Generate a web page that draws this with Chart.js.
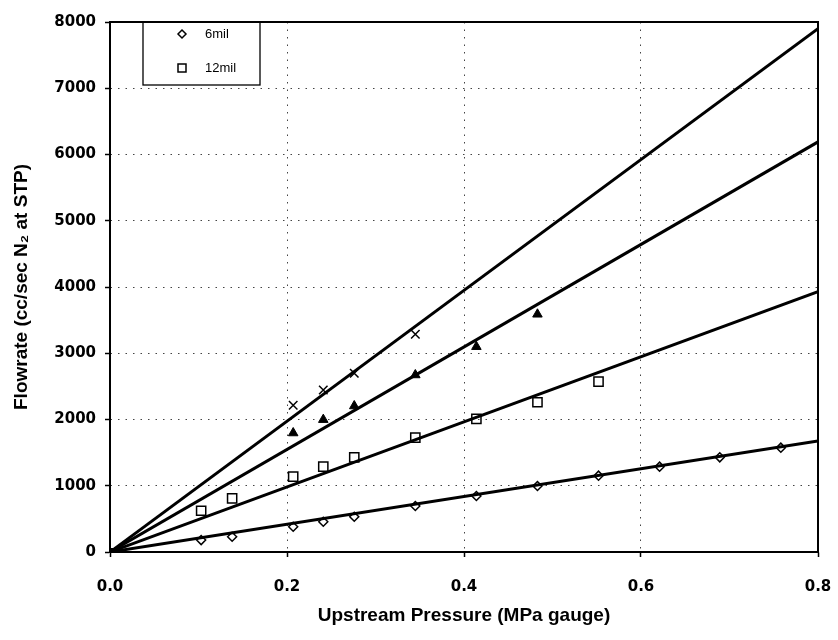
<!DOCTYPE html>
<html>
<head>
<meta charset="utf-8">
<script src="https://cdn.jsdelivr.net/npm/chart.js@4.4.1/dist/chart.umd.min.js"></script>
<style>
  html, body { margin: 0; padding: 0; background: #fff; }
  #wrap { width: 838px; height: 640px; position: relative; }
</style>
</head>
<body>
<div id="wrap"><canvas id="c" width="838" height="640"></canvas></div>
<script>
// ---- data ----
const pressure6mil = [0.103, 0.138, 0.207, 0.241, 0.276, 0.345, 0.414, 0.483, 0.552, 0.621, 0.689, 0.758];
const flow6mil     = [180, 231, 382, 457, 533, 694, 845, 996, 1152, 1288, 1429, 1575];
const pressure12mil = [0.103, 0.138, 0.207, 0.241, 0.276, 0.345, 0.414, 0.483, 0.552];
const flow12mil     = [623, 810, 1137, 1288, 1429, 1725, 2008, 2260, 2571];
const pressureTriangle = [0.207, 0.241, 0.276, 0.345, 0.414, 0.483];
const flowTriangle     = [1796, 1998, 2204, 2672, 3099, 3588];
const pressureCross = [0.207, 0.241, 0.276, 0.345];
const flowCross     = [2214, 2445, 2697, 3286];
const fitPressure = [0, 0.8];
const fit6mil     = [0, 1675];
const fit12mil    = [0, 3930];
const fitTriangle = [0, 6190];
const fitCross    = [0, 7900];
const xTicks = [0, 0.2, 0.4, 0.6, 0.8];
const yTicks = [0, 1000, 2000, 3000, 4000, 5000, 6000, 7000, 8000];
const legendLabels = ['6mil', '12mil'];

const pts = (xs, ys) => xs.map((x, i) => ({ x: x, y: ys[i] }));
const FONT = "'Liberation Sans', Arial, Helvetica, sans-serif";
const TICKFONT = "'DejaVu Sans', Verdana, sans-serif";

const fitLine = (ys) => ({
  type: 'line', data: pts(fitPressure, ys), showLine: true,
  borderColor: '#000', borderWidth: 3, pointRadius: [3.5, 0],
  pointStyle: 'rect', pointBackgroundColor: '#000', pointBorderColor: '#000',
  fill: false, order: 2
});

const frameAndLegend = {
  id: 'frameAndLegend',
  afterDraw(chart) {
    const { ctx, chartArea: a } = chart;
    ctx.save();
    ctx.setLineDash([]);
    ctx.strokeStyle = '#000';
    ctx.lineWidth = 2;
    ctx.strokeRect(a.left, a.top, a.right - a.left, a.bottom - a.top);
    // legend box
    const bx = 143, by = a.top, bw = 117, bh = 63;
    ctx.fillStyle = '#fff';
    ctx.fillRect(bx, by + 1, bw, bh - 1);
    ctx.lineWidth = 1.3;
    ctx.strokeRect(bx, by, bw, bh);
    ctx.lineWidth = 1.5;
    // diamond
    const dx = 182, dy = by + 12;
    ctx.beginPath();
    ctx.moveTo(dx, dy - 4); ctx.lineTo(dx + 4, dy); ctx.lineTo(dx, dy + 4); ctx.lineTo(dx - 4, dy); ctx.closePath();
    ctx.stroke();
    // square
    const sy = by + 46;
    ctx.strokeRect(dx - 4, sy - 4, 8, 8);
    ctx.fillStyle = '#000';
    ctx.font = '13px ' + FONT;
    ctx.textBaseline = 'middle';
    ctx.fillText(legendLabels[0], 205, dy);
    ctx.fillText(legendLabels[1], 205, sy);
    ctx.restore();
  }
};

new Chart(document.getElementById('c'), {
  type: 'scatter',
  data: {
    datasets: [
      { label: legendLabels[0], data: pts(pressure6mil, flow6mil), pointStyle: 'rectRot', pointRadius: 4.5,
        borderColor: '#000', backgroundColor: 'rgba(255,255,255,0)', borderWidth: 1.5, order: 1 },
      { label: legendLabels[1], data: pts(pressure12mil, flow12mil), pointStyle: 'rect', pointRadius: 6.5,
        borderColor: '#000', backgroundColor: 'rgba(255,255,255,0)', borderWidth: 1.5, order: 1 },
      { label: 'triangle', data: pts(pressureTriangle, flowTriangle), pointStyle: 'triangle', pointRadius: 5.5,
        borderColor: '#000', backgroundColor: '#000', borderWidth: 1, order: 1 },
      { label: 'cross', data: pts(pressureCross, flowCross), pointStyle: 'crossRot', pointRadius: 6,
        borderColor: '#000', backgroundColor: '#000', borderWidth: 1.5, order: 1 },
      fitLine(fitCross), fitLine(fitTriangle), fitLine(fit12mil), fitLine(fit6mil)
    ]
  },
  options: {
    responsive: false,
    animation: false,
    layout: { padding: { left: 10, right: 20, top: 22, bottom: 0 } },
    plugins: { legend: { display: false }, tooltip: { enabled: false } },
    scales: {
      x: {
        type: 'linear', min: 0, max: 0.8,
        afterBuildTicks: (s) => { s.ticks = xTicks.map(v => ({ value: v })); },
        afterFit: (s) => { s.height = 88; s.paddingLeft = 0; s.paddingRight = 0; },
        border: { display: true, color: '#000', width: 1.5, dash: [1.5, 6] },
        grid: { color: '#444', lineWidth: 1, tickLength: 5, tickBorderDash: [], tickColor: '#000', tickWidth: 1.5 },
        ticks: { color: '#000', padding: 21, font: { family: TICKFONT, size: 15, weight: 'bold' },
                 callback: (v) => Number(v).toFixed(1) },
        title: { display: true, text: 'Upstream Pressure (MPa gauge)', color: '#000',
                 font: { family: FONT, size: 19, weight: 'bold' }, padding: { top: 0, bottom: 13 } }
      },
      y: {
        type: 'linear', min: 0, max: 8000,
        afterBuildTicks: (s) => { s.ticks = yTicks.map(v => ({ value: v })); },
        afterFit: (s) => { s.width = 100; s.paddingTop = 0; s.paddingBottom = 0; },
        border: { display: true, color: '#000', width: 1.5, dash: [1.5, 6] },
        grid: { color: '#444', lineWidth: 1, tickLength: 5, tickBorderDash: [], tickColor: '#000', tickWidth: 1.5 },
        ticks: { color: '#000', padding: 9, font: { family: TICKFONT, size: 15, weight: 'bold' },
                 callback: (v) => String(v) },
        title: { display: true, text: 'Flowrate (cc/sec N\u2082 at STP)', color: '#000',
                 font: { family: FONT, size: 19, weight: 'bold' }, padding: { top: 0, bottom: 6 } }
      }
    }
  },
  plugins: [frameAndLegend]
});
</script>
</body>
</html>
